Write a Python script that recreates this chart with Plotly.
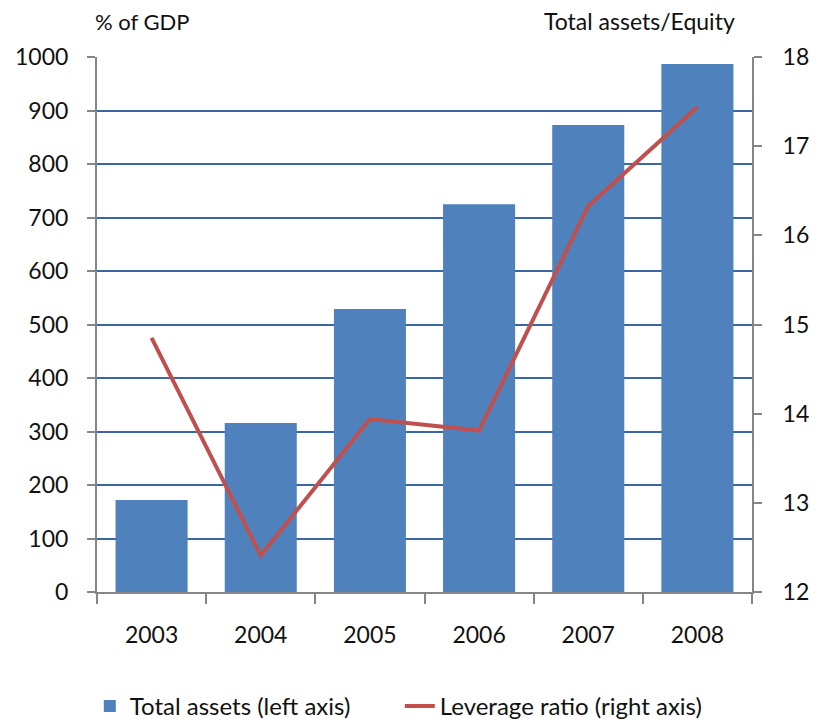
import plotly.graph_objects as go

years = ["2003", "2004", "2005", "2006", "2007", "2008"]
total_assets = [172, 316, 529, 725, 873, 987]
leverage = [14.85, 12.41, 13.94, 13.81, 16.33, 17.44]

font_family = "Lato, Open Sans, sans-serif"

fig = go.Figure()
fig.add_trace(go.Bar(
    x=years, y=total_assets, name="Total assets (left axis)",
    marker=dict(color="#4f81bd", line=dict(width=0)),
))
fig.add_trace(go.Scatter(
    x=years, y=leverage, name="Leverage ratio (right axis)",
    mode="lines", line=dict(color="#c0504d", width=4), yaxis="y2",
))

fig.update_layout(
    width=813, height=714,
    margin=dict(l=89, r=69, t=49, b=130, autoexpand=False),
    paper_bgcolor="white", plot_bgcolor="white",
    font=dict(family=font_family, size=23, color="#111111"),
    bargap=0.34,
    showlegend=True,
    legend=dict(orientation="h", x=-0.011, xanchor="left", y=-0.172, yanchor="top",
                font=dict(size=24), itemwidth=30, tracegroupgap=0,
                entrywidth=265, entrywidthmode="pixels"),
    xaxis=dict(
        showline=True, linecolor="#868686", linewidth=2,
        ticks="outside", tickson="boundaries", ticklen=10, tickcolor="#868686", tickwidth=2,
        showgrid=False, tickfont=dict(size=23), ticklabelstandoff=21,
    ),
    yaxis=dict(
        range=[0, 1000], dtick=100, showline=True, linecolor="#868686", linewidth=2,
        ticks="outside", ticklen=8, tickcolor="#868686", tickwidth=2,
        showgrid=True, gridcolor="#3a67a3", gridwidth=2, zeroline=False,
        tickfont=dict(size=23), ticklabelstandoff=14,
    ),
    yaxis2=dict(
        range=[12, 18], dtick=1, overlaying="y", side="right",
        showline=True, linecolor="#868686", linewidth=2,
        ticks="outside", ticklen=8, tickcolor="#868686", tickwidth=2,
        showgrid=False, zeroline=False, tickfont=dict(size=23), ticklabelstandoff=16,
    ),
    annotations=[
        dict(text="% of GDP", xref="paper", yref="paper", x=-0.006, y=1.038,
             xanchor="left", yanchor="bottom", showarrow=False, font=dict(size=22)),
        dict(text="Total assets/Equity", xref="paper", yref="paper", x=0.829, y=1.038,
             xanchor="center", yanchor="bottom", showarrow=False, font=dict(size=23)),
    ],
)

fig.write_html("out.html")
